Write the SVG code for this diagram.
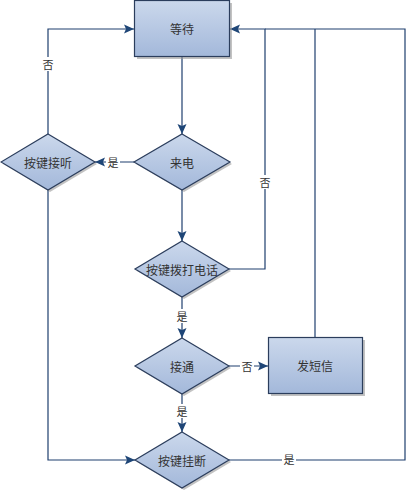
<svg xmlns="http://www.w3.org/2000/svg" width="406" height="491" viewBox="0 0 406 491">
<defs>
<linearGradient id="g" x1="0" y1="0" x2="0" y2="1">
<stop offset="0" stop-color="#cbd8ec"/>
<stop offset="1" stop-color="#a3b8da"/>
</linearGradient>
<marker id="arr" markerUnits="userSpaceOnUse" markerWidth="10" markerHeight="10" viewBox="0 0 10 10" refX="10" refY="5" orient="auto">
<path d="M0,0.5 L10,5 L0,9.5 L2,5 Z" fill="#1f4677"/>
</marker>
</defs>
<style>
.shape{fill:url(#g);stroke:#2b3d5c;stroke-width:1.2}
.shadow{fill:#9a9a9a;opacity:0.6}
.t{font-family:"Noto Sans CJK SC","Noto Sans",sans-serif;font-size:12px;fill:#333;text-anchor:middle;dominant-baseline:central}
.l{font-family:"Noto Sans CJK SC","Noto Sans",sans-serif;font-size:11px;fill:#333;text-anchor:middle;dominant-baseline:central}
.c{fill:none;stroke:#1f3f6e;stroke-width:1.2}
.a{marker-end:url(#arr)}
.bg{fill:#fff}
</style>
<rect width="406" height="491" fill="#fff"/>
<g id="connectors">
<path class="c a" d="M182 57 V134"/>
<path class="c a" d="M134 162 H95"/>
<path class="c a" d="M48 134 V29 H134"/>
<path class="c a" d="M48 190 V460 H135"/>
<path class="c a" d="M182 190 V241"/>
<path class="c a" d="M229 269 H265 V29 H230"/>
<path class="c a" d="M182 297 V338"/>
<path class="c a" d="M229 366 H268"/>
<path class="c" d="M315 337 V29"/>
<path class="c a" d="M182 394 V432"/>
<path class="c" d="M229 460 H405 V29 H265"/>
<rect class="bg" x="106" y="155" width="14" height="14"/>
<text class="l" x="113" y="162">是</text>
<rect class="bg" x="41" y="57" width="14" height="14"/>
<text class="l" x="48" y="64">否</text>
<rect class="bg" x="258" y="175" width="14" height="14"/>
<text class="l" x="265" y="182">否</text>
<rect class="bg" x="175" y="309" width="14" height="14"/>
<text class="l" x="182" y="316">是</text>
<rect class="bg" x="240" y="359" width="14" height="14"/>
<text class="l" x="247" y="366">否</text>
<rect class="bg" x="175" y="404" width="14" height="14"/>
<text class="l" x="182" y="411">是</text>
<rect class="bg" x="282" y="453" width="14" height="14"/>
<text class="l" x="289" y="459">是</text>
</g>
<g id="wait">
<rect class="shadow" x="137" y="3" width="95" height="56"/>
<rect class="shape" x="134.5" y="0.5" width="95" height="56"/>
<text class="t" x="182" y="28">等待</text>
</g>
<g id="incoming">
<polygon class="shadow" points="184,136 232,164 184,192 136,164"/>
<polygon class="shape" points="182,134 230,162 182,190 134,162"/>
<text class="t" x="182" y="162">来电</text>
</g>
<g id="answer">
<polygon class="shadow" points="50,136 97,164 50,192 3,164"/>
<polygon class="shape" points="48,134 95,162 48,190 1,162"/>
<text class="t" x="48" y="162">按键接听</text>
</g>
<g id="dial">
<polygon class="shadow" points="184,243 231,271 184,299 137,271"/>
<polygon class="shape" points="182,241 229,269 182,297 135,269"/>
<text class="t" x="182" y="269">按键拨打电话</text>
</g>
<g id="connected">
<polygon class="shadow" points="184,340 231,368 184,396 137,368"/>
<polygon class="shape" points="182,338 229,366 182,394 135,366"/>
<text class="t" x="182" y="366">接通</text>
</g>
<g id="sms">
<rect class="shadow" x="271" y="340" width="94" height="56"/>
<rect class="shape" x="268.5" y="337.5" width="94" height="56"/>
<text class="t" x="315" y="365">发短信</text>
</g>
<g id="hangup">
<polygon class="shadow" points="184,434 231,462 184,490 137,462"/>
<polygon class="shape" points="182,432 229,460 182,488 135,460"/>
<text class="t" x="182" y="460">按键挂断</text>
</g>
</svg>
